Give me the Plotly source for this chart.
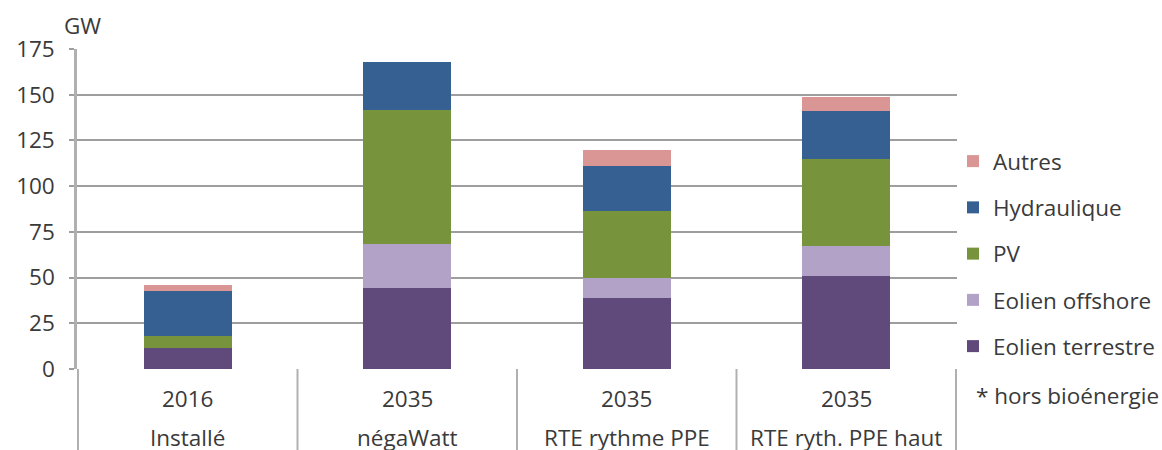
import plotly.graph_objects as go

scenarios = ["Installé", "négaWatt", "RTE rythme PPE", "RTE ryth. PPE haut"]
years = ["2016", "2035", "2035", "2035"]

eolien_terrestre = [11.7, 44.2, 39.0, 50.9]
eolien_offshore = [0.0, 24.2, 10.8, 16.4]
pv = [6.5, 73.0, 36.5, 47.7]
hydraulique = [24.5, 26.6, 24.8, 26.0]
autres = [3.3, 0.0, 8.8, 8.0]

series = [
    ("Eolien terrestre", eolien_terrestre, "#604A7B"),
    ("Eolien offshore", eolien_offshore, "#B3A2C7"),
    ("PV", pv, "#77933C"),
    ("Hydraulique", hydraulique, "#366092"),
    ("Autres", autres, "#D99694"),
]

FONT = "Open Sans"
TXT = "#3a3a3a"
GRID = "#9e9e9e"
FS = 22.5

W, H = 1162, 450
L, T = 77, 49
PW, PH = 880, 320

fig = go.Figure()
n = len(series)
for i, (name, vals, col) in enumerate(series):
    fig.add_trace(go.Bar(x=scenarios, y=vals, name=name, legendgroup=name,
                         legendrank=n - i,
                         marker=dict(color=col, line=dict(width=0))))

fig.update_layout(
    barmode="stack",
    bargap=0.6,
    width=W, height=H,
    margin=dict(l=L, r=W - L - PW, t=T, b=H - T - PH, autoexpand=False),
    paper_bgcolor="white", plot_bgcolor="white",
    font=dict(family=FONT, size=FS, color=TXT),
    showlegend=True,
    legend=dict(traceorder="grouped", tracegroupgap=14,
                x=(953 - 77) / PW, xanchor="left", y=(369 - 140) / PH, yanchor="top",
                font=dict(family=FONT, size=FS, color=TXT), bgcolor="rgba(0,0,0,0)"),
)

fig.update_yaxes(range=[0, 175], tickvals=[0, 25, 50, 75, 100, 125, 150, 175],
                 showgrid=True, gridcolor=GRID, gridwidth=1.5,
                 ticks="outside", ticklen=5, tickcolor=GRID, tickwidth=1.5,
                 showline=True, linecolor="#b0b0b0", linewidth=2.5,
                 ticklabelstandoff=10, zeroline=False, automargin=False,
                 tickfont=dict(family=FONT, size=FS, color=TXT))
fig.update_xaxes(showticklabels=False, showline=False, ticks="", showgrid=False,
                 automargin=False)

# category labels
for sc, yr in zip(scenarios, years):
    fig.add_annotation(x=sc, xref="x", y=-(398 - 369) / PH, yref="paper", text=yr,
                       showarrow=False, yanchor="middle", font=dict(size=FS, color=TXT))
    fig.add_annotation(x=sc, xref="x", y=-(437 - 369) / PH, yref="paper", text=sc,
                       showarrow=False, yanchor="middle", font=dict(size=FS, color=TXT))

# dividers
for k in range(len(scenarios) + 1):
    fig.add_shape(type="line", xref="x", yref="paper", x0=k - 0.5, x1=k - 0.5,
                  y0=0, y1=-0.3, line=dict(color="#b0b0b0", width=2), layer="below")

fig.add_annotation(x=(82 - 77) / PW, xref="paper", y=(369 - 25) / PH, yref="paper",
                   text="GW", showarrow=False, xanchor="center", yanchor="middle",
                   font=dict(size=FS, color=TXT))
fig.add_annotation(x=(974 - 77) / PW, xref="paper", y=-(395 - 369) / PH, yref="paper",
                   text="* hors bioénergie", showarrow=False, xanchor="left", yanchor="middle",
                   font=dict(size=FS, color=TXT))

fig.write_html("out.html",
               config={"displayModeBar": False},
               post_script="document.body.style.margin='0';document.body.style.overflow='hidden';")
